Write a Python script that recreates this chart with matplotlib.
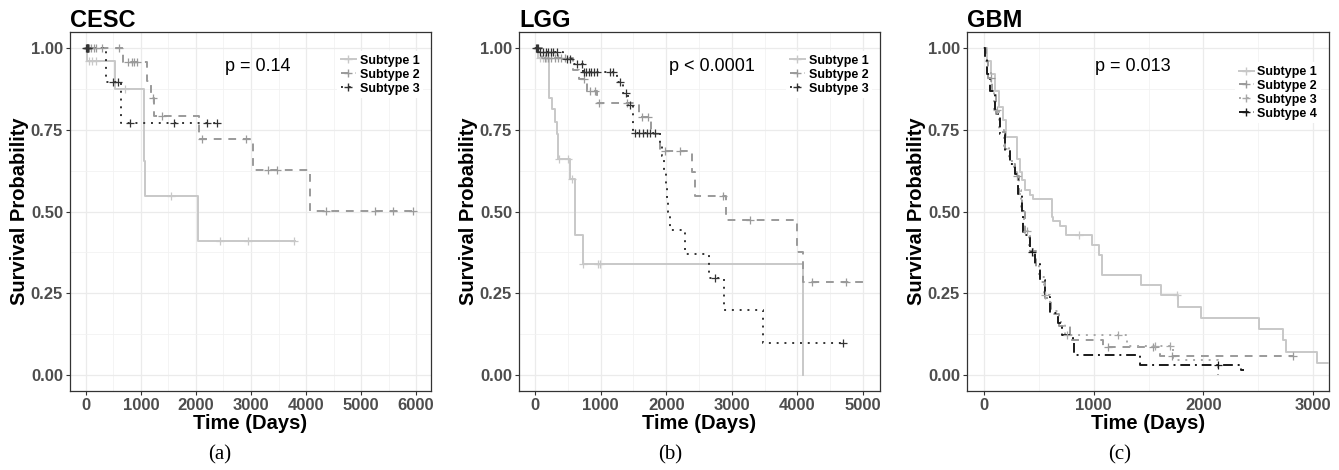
import numpy as np
import matplotlib
matplotlib.use('Agg')
import matplotlib.pyplot as plt
from matplotlib.ticker import MultipleLocator

plt.rcParams['font.family'] = ['Liberation Sans', 'DejaVu Sans']

# ---- CESC ----
cesc_s1_t = [0, 10, 527, 1055, 1070, 2030]
cesc_s1_s = [1.0, 0.96, 0.875, 0.655, 0.547, 0.41]
cesc_s1_end = 3800
cesc_s1_cens = [60, 110, 175, 709, 1540, 2436, 2940, 3780]

cesc_s2_t = [0, 667, 1103, 1180, 1236, 2055, 3042, 4073]
cesc_s2_s = [1.0, 0.957, 0.90, 0.848, 0.793, 0.722, 0.628, 0.503]
cesc_s2_end = 5950
cesc_s2_cens = [20, 50, 90, 140, 180, 290, 600, 770, 830, 880, 933, 1212,
                1376, 2103, 2909, 3315, 3467, 4364, 5255, 5576, 5950]

cesc_s3_t = [0, 364, 636]
cesc_s3_s = [1.0, 0.897, 0.77]
cesc_s3_end = 2440
cesc_s3_cens = [5, 15, 25, 35, 45, 497, 588, 800, 1600, 2205, 2387]

# ---- LGG ----
lgg_s1_t = [0, 50, 220, 254, 305, 340, 355, 533, 610, 727, 4080]
lgg_s1_s = [1.0, 0.97, 0.848, 0.813, 0.775, 0.737, 0.66, 0.60, 0.427, 0.34, 0.0]
lgg_s1_end = 4080
lgg_s1_cens = [30, 80, 120, 160, 200, 371, 498, 559, 727, 960, 990]

lgg_s2_t = [0, 100, 584, 676, 788, 940, 1590, 1768, 1905, 2388, 2439, 2911, 3989, 4090]
lgg_s2_s = [1.0, 0.97, 0.935, 0.905, 0.87, 0.831, 0.79, 0.737, 0.686, 0.62, 0.549,
            0.473, 0.376, 0.283]
lgg_s2_end = 5000
lgg_s2_cens = [150, 200, 250, 300, 350, 400, 450, 750, 838, 914, 980, 1397, 1626,
               1727, 1982, 2210, 2870, 3277, 4217, 4741]

lgg_s3_t = [0, 60, 432, 584, 727, 1245, 1336, 1423, 1489, 1905, 1931, 1960, 1990,
            2010, 2030, 2058, 2287, 2657, 2881, 3471]
lgg_s3_s = [1.0, 0.99, 0.968, 0.952, 0.928, 0.897, 0.864, 0.826, 0.739, 0.706, 0.67,
            0.62, 0.58, 0.54, 0.50, 0.444, 0.369, 0.297, 0.198, 0.098]
lgg_s3_end = 4700
lgg_s3_cens = [10, 30, 50, 80, 120, 160, 200, 240, 280, 330, 483, 534, 635, 712, 740,
               780, 820, 860, 900, 940, 1143, 1194, 1296, 1387, 1448, 1524, 1580,
               1640, 1700, 1760, 1829, 2744, 4700]

# ---- GBM ----
gbm_s1_t = [0, 30, 60, 100, 140, 175, 205, 300, 325, 345, 375, 420, 445, 617, 632,
            693, 745, 982, 1048, 1073, 1428, 1613, 1765, 1975, 2510, 2729, 2755, 3039]
gbm_s1_s = [1.0, 0.96, 0.92, 0.87, 0.82, 0.78, 0.729, 0.66, 0.62, 0.595, 0.566, 0.55,
            0.539, 0.483, 0.47, 0.457, 0.427, 0.396, 0.366, 0.305, 0.274, 0.244,
            0.208, 0.173, 0.139, 0.107, 0.068, 0.036]
gbm_s1_end = 3140
gbm_s1_cens = [866, 1756]

gbm_s2_t = [0, 15, 40, 70, 110, 150, 195, 240, 285, 320, 350, 370, 420, 470, 515,
            560, 610, 680, 780, 1088, 1600]
gbm_s2_s = [1.0, 0.96, 0.91, 0.86, 0.80, 0.745, 0.69, 0.645, 0.61, 0.555, 0.50, 0.43,
            0.38, 0.33, 0.285, 0.235, 0.185, 0.15, 0.107, 0.084, 0.056]
gbm_s2_end = 2820
gbm_s2_cens = [60, 300, 1133, 1544, 1711, 2820]

gbm_s3_t = [0, 10, 30, 60, 95, 140, 185, 230, 275, 310, 340, 365, 410, 460, 505, 550,
            600, 670, 738, 1301, 1726, 2136]
gbm_s3_s = [1.0, 0.975, 0.93, 0.875, 0.81, 0.75, 0.70, 0.655, 0.62, 0.565, 0.51, 0.44,
            0.385, 0.345, 0.30, 0.245, 0.195, 0.16, 0.122, 0.089, 0.046, 0.0]
gbm_s3_end = 2136
gbm_s3_cens = [120, 390, 560, 760, 1225, 1559, 1700]

gbm_s4_t = [0, 8, 25, 55, 100, 146, 191, 237, 283, 313, 343, 359, 419, 465, 510, 556,
            602, 677, 708, 809, 820, 1422, 2340]
gbm_s4_s = [1.0, 0.97, 0.92, 0.87, 0.80, 0.737, 0.686, 0.645, 0.615, 0.554, 0.503,
            0.427, 0.376, 0.34, 0.29, 0.239, 0.188, 0.158, 0.122, 0.097, 0.061, 0.03,
            0.013]
gbm_s4_end = 2370
gbm_s4_cens = [440, 2136]

LIGHT, MID, DARK = '#c8c8c8', '#9a9a9a', '#333333'
DASHED = (0, (4, 3.5))
DOTTED = (0, (1, 3))
DASHDOT = (0, (5, 2.5, 1, 2.5))


def km(ax, t, s, end, cens, color, ls, label):
    t = np.array(t, dtype=float)
    s = np.array(s, dtype=float)
    tt = np.append(t, end)
    ss = np.append(s, s[-1])
    ax.step(tt, ss, where='post', color=color, lw=1.4, ls=ls, label=label,
            marker='+', markevery=[], zorder=3)
    cens = np.array(cens, dtype=float)
    cy = s[np.searchsorted(t, cens, side='right') - 1]
    ax.plot(cens, cy, ls='none', marker='+', color=color, ms=6, mew=0.9, zorder=4)


def style(ax, title, xmax_major, xlim, caption_x, legend_xy, ptext, pxy):
    ax.set_xlim(*xlim)
    ax.set_ylim(-0.05, 1.05)
    ax.set_yticks([0, 0.25, 0.5, 0.75, 1.0])
    ax.set_yticklabels(['0.00', '0.25', '0.50', '0.75', '1.00'])
    ax.xaxis.set_major_locator(MultipleLocator(xmax_major))
    ax.xaxis.set_minor_locator(MultipleLocator(xmax_major / 2))
    ax.yaxis.set_minor_locator(MultipleLocator(0.125))
    ax.grid(which='major', color='#ebebeb', lw=0.9, zorder=0)
    ax.grid(which='minor', color='#f2f2f2', lw=0.6, zorder=0)
    ax.set_axisbelow(True)
    for sp in ax.spines.values():
        sp.set_color('#333333')
        sp.set_linewidth(0.9)
    ax.tick_params(which='major', length=3, width=0.8, color='#333333',
                   labelsize=12, labelcolor='#4d4d4d', pad=2)
    ax.tick_params(which='minor', length=0)
    for lab in ax.get_xticklabels() + ax.get_yticklabels():
        lab.set_fontweight('bold')
    ax.set_xlabel('Time (Days)', fontsize=14.5, fontweight='bold', labelpad=0.5)
    ax.set_ylabel('Survival Probability', fontsize=14.5, fontweight='bold', labelpad=1)
    ax.set_title(title, loc='left', fontsize=17, fontweight='bold', pad=3)
    ax.text(pxy[0], pxy[1], ptext, fontsize=13, ha='center', va='center')
    leg = ax.legend(loc='upper left', bbox_to_anchor=legend_xy, frameon=True,
                    fontsize=9, handlelength=1.2, handletextpad=0.3,
                    labelspacing=0.15, borderpad=0.3, borderaxespad=0)
    leg.get_frame().set_facecolor('white')
    leg.get_frame().set_edgecolor('none')
    leg.get_frame().set_alpha(1)
    for txt in leg.get_texts():
        txt.set_fontweight('bold')
    fig.text(caption_x, 0.032, caption_txt[title], fontsize=15,
             family='Liberation Serif', ha='center', va='center')


caption_txt = {'CESC': '(a)', 'LGG': '(b)', 'GBM': '(c)'}

fig = plt.figure(figsize=(13.39, 4.70), dpi=100)
W, H = 1339, 470
ax1 = fig.add_axes([70 / W, 1 - 391 / H, 361 / W, 359 / H])
ax2 = fig.add_axes([519 / W, 1 - 391 / H, 361 / W, 359 / H])
ax3 = fig.add_axes([967 / W, 1 - 391 / H, 362 / W, 359 / H])

km(ax1, cesc_s1_t, cesc_s1_s, cesc_s1_end, cesc_s1_cens, LIGHT, '-', 'Subtype 1')
km(ax1, cesc_s2_t, cesc_s2_s, cesc_s2_end, cesc_s2_cens, MID, DASHED, 'Subtype 2')
km(ax1, cesc_s3_t, cesc_s3_s, cesc_s3_end, cesc_s3_cens, DARK, DOTTED, 'Subtype 3')
style(ax1, 'CESC', 1000, (-290, 6272), 220 / W, (0.74, 0.947), 'p = 0.14', (3127, 0.945))

km(ax2, lgg_s1_t, lgg_s1_s, lgg_s1_end, lgg_s1_cens, LIGHT, '-', 'Subtype 1')
km(ax2, lgg_s2_t, lgg_s2_s, lgg_s2_end, lgg_s2_cens, MID, DASHED, 'Subtype 2')
km(ax2, lgg_s3_t, lgg_s3_s, lgg_s3_end, lgg_s3_cens, DARK, DOTTED, 'Subtype 3')
style(ax2, 'LGG', 1000, (-244, 5259), 670 / W, (0.74, 0.947), 'p < 0.0001', (2693, 0.945))

km(ax3, gbm_s1_t, gbm_s1_s, gbm_s1_end, gbm_s1_cens, LIGHT, '-', 'Subtype 1')
km(ax3, gbm_s2_t, gbm_s2_s, gbm_s2_end, gbm_s2_cens, MID, DASHED, 'Subtype 2')
km(ax3, gbm_s3_t, gbm_s3_s, gbm_s3_end, gbm_s3_cens, '#a8a8a8', DOTTED, 'Subtype 3')
km(ax3, gbm_s4_t, gbm_s4_s, gbm_s4_end, gbm_s4_cens, '#1a1a1a', DASHDOT, 'Subtype 4')
style(ax3, 'GBM', 1000, (-155, 3145), 1120 / W, (0.74, 0.916), 'p = 0.013', (1361, 0.945))

fig.savefig('out.png', dpi=100)
